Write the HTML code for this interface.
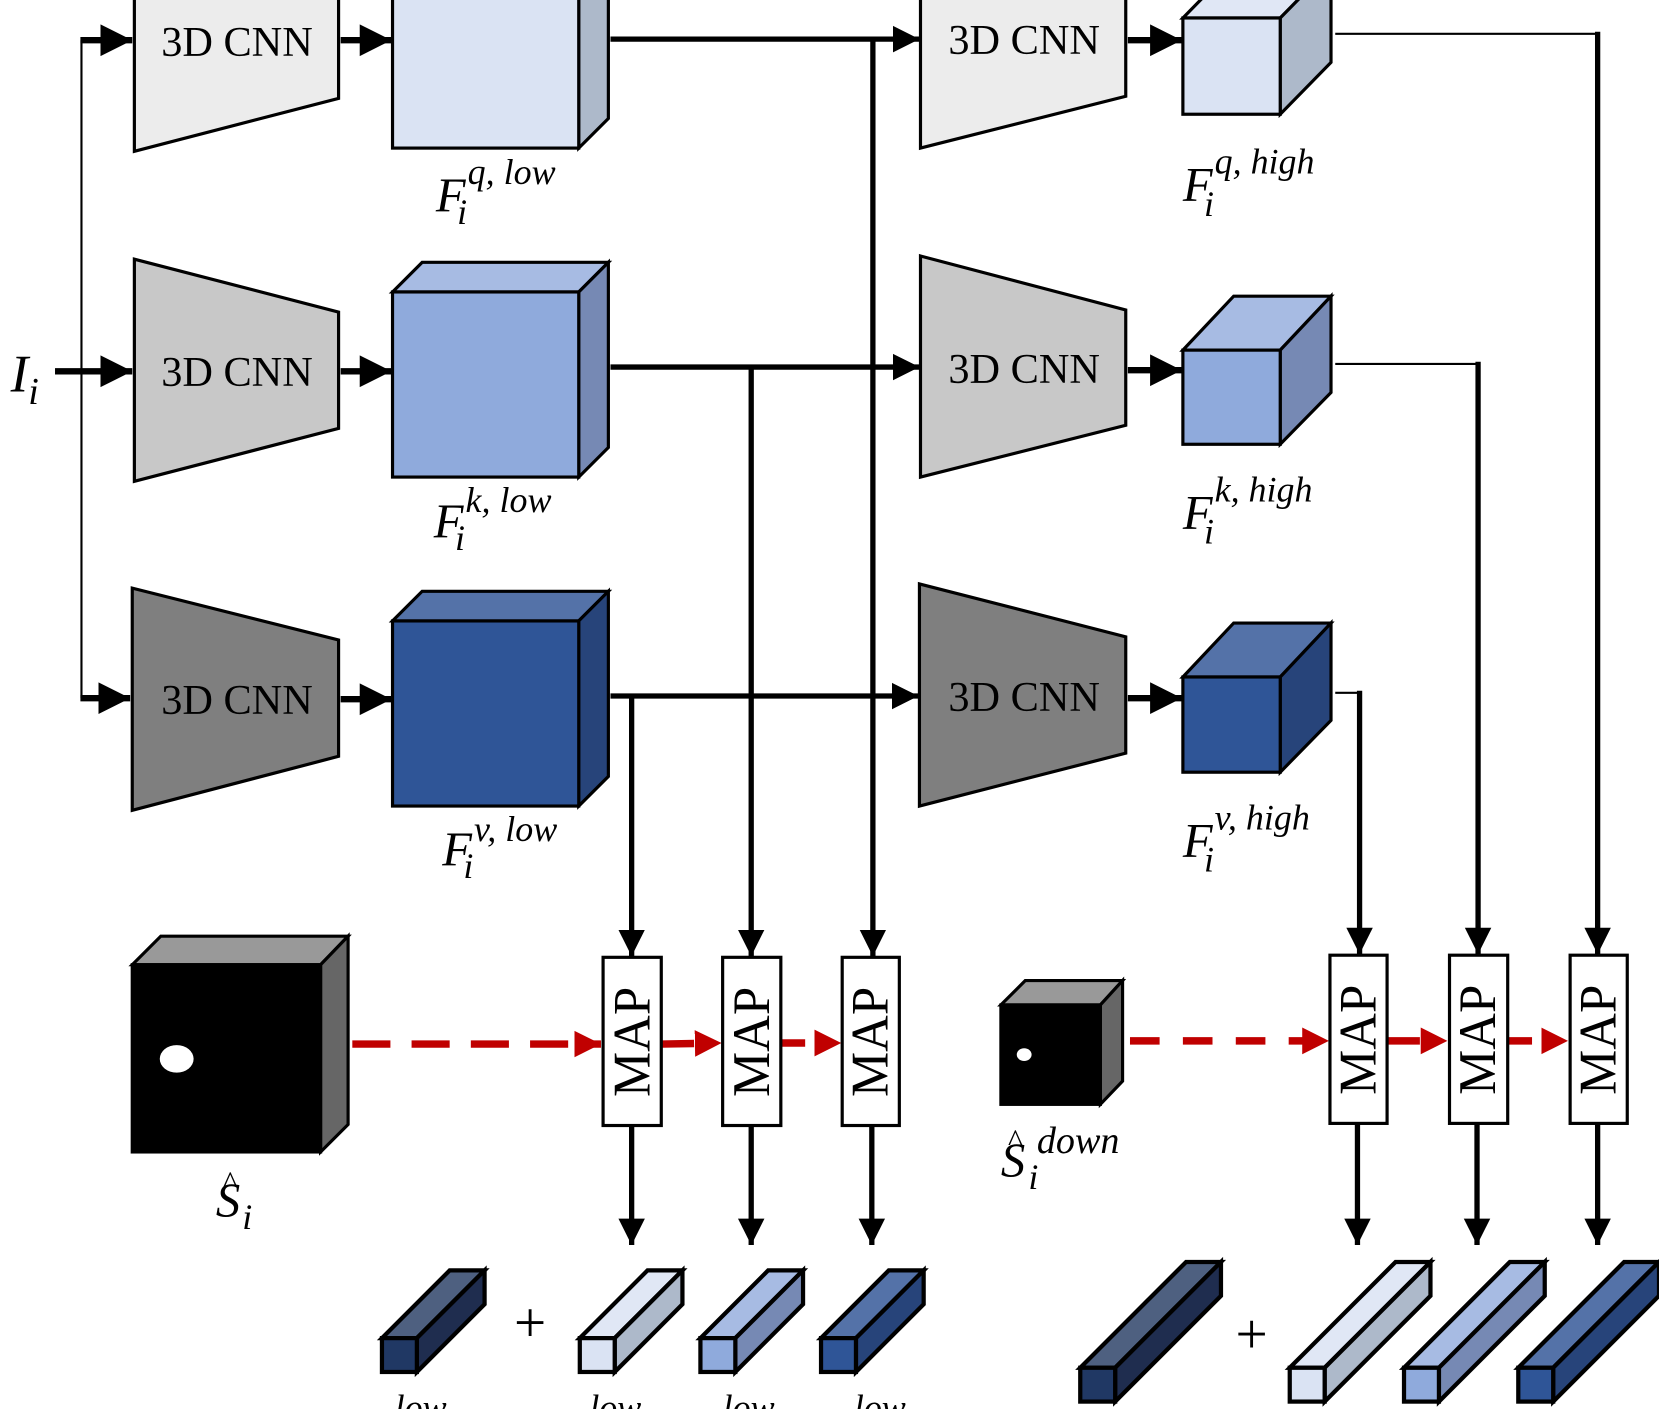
<!DOCTYPE html>
<html><head><style>html,body{margin:0;padding:0;background:#fff;overflow:hidden}svg{display:block}</style></head>
<body>
<svg width="1659" height="1409" viewBox="0 0 1568 1332" preserveAspectRatio="none" xmlns="http://www.w3.org/2000/svg">
<defs>
<marker id="ah" viewBox="0 0 10 10" refX="10" refY="5" markerWidth="5" markerHeight="5.2" orient="auto" markerUnits="strokeWidth"><path d="M0,0L10,5L0,10z" fill="#000"/></marker>
<marker id="rh" viewBox="0 0 10 10" refX="10" refY="5" markerWidth="3.6" markerHeight="4" orient="auto" markerUnits="strokeWidth"><path d="M0,0L10,5L0,10z" fill="#c00000"/></marker>
</defs>
<g stroke="#000" stroke-width="3" stroke-linejoin="miter">
<polygon points="127,-67 320,-17 320,93 127,143" fill="#ececec"/>
<polygon points="127,245 320,295 320,405 127,455" fill="#c8c8c8"/>
<polygon points="125,556 320,605 320,715 125,766" fill="#7f7f7f"/>
<polygon points="870,-68 1064,-17 1064,91 870,140" fill="#ececec"/>
<polygon points="870,242 1064,293 1064,402 870,451" fill="#c8c8c8"/>
<polygon points="869,552 1064,602 1064,712 869,762" fill="#7f7f7f"/>
<polygon points="371,-35 399,-63 575,-63 547,-35" fill="#e0e7f5"/>
<polygon points="547,-35 575,-63 575,112 547,140" fill="#adb9ca"/>
<rect x="371" y="-35" width="176" height="175" fill="#dae3f3"/>
<polygon points="371,276 399,248 575,248 547,276" fill="#a7bbe3"/>
<polygon points="547,276 575,248 575,423 547,451" fill="#7689b4"/>
<rect x="371" y="276" width="176" height="175" fill="#8faadc"/>
<polygon points="371,587 399,559 575,559 547,587" fill="#5472a8"/>
<polygon points="547,587 575,559 575,734 547,762" fill="#27447a"/>
<rect x="371" y="587" width="176" height="175" fill="#2f5597"/>
<polygon points="1118,17 1166,-32 1258,-32 1210,17" fill="#e0e7f5"/>
<polygon points="1210,17 1258,-32 1258,59 1210,108" fill="#adb9ca"/>
<rect x="1118" y="17" width="92" height="91" fill="#dae3f3"/>
<polygon points="1118,331 1166,280 1258,280 1210,331" fill="#a7bbe3"/>
<polygon points="1210,331 1258,280 1258,371 1210,420" fill="#7689b4"/>
<rect x="1118" y="331" width="92" height="89" fill="#8faadc"/>
<polygon points="1118,640 1166,589 1258,589 1210,640" fill="#5472a8"/>
<polygon points="1210,640 1258,589 1258,681 1210,730" fill="#27447a"/>
<rect x="1118" y="640" width="92" height="90" fill="#2f5597"/>
<polygon points="125,912 152,885 329,885 303,912" fill="#999"/>
<polygon points="303,912 329,885 329,1063 303,1089" fill="#666"/>
<rect x="125" y="912" width="178" height="177" fill="#000"/>
<polygon points="946,950 969,927 1061,927 1040,950" fill="#999"/>
<polygon points="1040,950 1061,927 1061,1022 1040,1044" fill="#666"/>
<rect x="946" y="950" width="94" height="94" fill="#000"/>
</g>
<ellipse cx="167" cy="1001" rx="16" ry="13" fill="#fff"/>
<ellipse cx="968" cy="997" rx="7" ry="6" fill="#fff"/>
<g stroke="#000" fill="none">
<line x1="52" y1="351" x2="125" y2="351" stroke-width="6" marker-end="url(#ah)"/>
<line x1="77" y1="38" x2="77" y2="660" stroke-width="2"/>
<line x1="76" y1="38" x2="125" y2="38" stroke-width="6" marker-end="url(#ah)"/>
<line x1="76" y1="660" x2="123" y2="660" stroke-width="6" marker-end="url(#ah)"/>
<line x1="322" y1="38" x2="370" y2="38" stroke-width="6" marker-end="url(#ah)"/>
<line x1="322" y1="351" x2="370" y2="351" stroke-width="6" marker-end="url(#ah)"/>
<line x1="322" y1="661" x2="370" y2="661" stroke-width="6" marker-end="url(#ah)"/>
<line x1="577" y1="37" x2="869" y2="37" stroke-width="5" marker-end="url(#ah)"/>
<line x1="577" y1="347" x2="869" y2="347" stroke-width="5" marker-end="url(#ah)"/>
<line x1="577" y1="658" x2="868" y2="658" stroke-width="5" marker-end="url(#ah)"/>
<line x1="1066" y1="38" x2="1117" y2="38" stroke-width="6" marker-end="url(#ah)"/>
<line x1="1066" y1="350" x2="1117" y2="350" stroke-width="6" marker-end="url(#ah)"/>
<line x1="1066" y1="660" x2="1117" y2="660" stroke-width="6" marker-end="url(#ah)"/>
<line x1="825" y1="37" x2="825" y2="904" stroke-width="5" marker-end="url(#ah)"/>
<line x1="710" y1="347" x2="710" y2="904" stroke-width="5" marker-end="url(#ah)"/>
<line x1="597" y1="658" x2="597" y2="904" stroke-width="5" marker-end="url(#ah)"/>
<polyline points="1262,32 1510,32" stroke-width="2"/>
<line x1="1510" y1="30" x2="1510" y2="902" stroke-width="5" marker-end="url(#ah)"/>
<polyline points="1262,344 1397,344" stroke-width="2"/>
<line x1="1397" y1="342" x2="1397" y2="902" stroke-width="5" marker-end="url(#ah)"/>
<polyline points="1262,655 1285,655" stroke-width="2"/>
<line x1="1285" y1="653" x2="1285" y2="902" stroke-width="5" marker-end="url(#ah)"/>
<line x1="597" y1="1064" x2="597" y2="1177" stroke-width="5" marker-end="url(#ah)"/>
<line x1="710" y1="1064" x2="710" y2="1177" stroke-width="5" marker-end="url(#ah)"/>
<line x1="824" y1="1064" x2="824" y2="1177" stroke-width="5" marker-end="url(#ah)"/>
<line x1="1283" y1="1062" x2="1283" y2="1177" stroke-width="5" marker-end="url(#ah)"/>
<line x1="1396" y1="1062" x2="1396" y2="1177" stroke-width="5" marker-end="url(#ah)"/>
<line x1="1510" y1="1062" x2="1510" y2="1177" stroke-width="5" marker-end="url(#ah)"/>
</g>
<g stroke="#c00000" stroke-width="7" fill="none">
<line x1="333" y1="987" x2="568" y2="987" stroke-dasharray="36,20" marker-end="url(#rh)"/>
<line x1="626" y1="987" x2="682" y2="986" stroke-dasharray="30,100" marker-end="url(#rh)"/>
<line x1="739" y1="986" x2="795" y2="986" stroke-dasharray="22,100" marker-end="url(#rh)"/>
<line x1="1068" y1="984" x2="1256" y2="984" stroke-dasharray="28,22" marker-end="url(#rh)"/>
<line x1="1312" y1="984" x2="1368" y2="984" stroke-dasharray="30,100" marker-end="url(#rh)"/>
<line x1="1426" y1="984" x2="1482" y2="984" stroke-dasharray="22,100" marker-end="url(#rh)"/>
</g>
<g stroke="#000" stroke-width="3" fill="#fff">
<rect x="570" y="905" width="55" height="159"/><rect x="683" y="905" width="55" height="159"/><rect x="796" y="905" width="54" height="159"/>
<rect x="1257" y="903" width="54" height="159"/><rect x="1370" y="903" width="55" height="159"/><rect x="1484" y="903" width="54" height="159"/>
</g>
<g font-family="Liberation Serif, serif" font-size="48" fill="#000" text-anchor="middle">
<text transform="translate(614,985) rotate(-90) scale(1,1.05)">MAP</text>
<text transform="translate(727,985) rotate(-90) scale(1,1.05)">MAP</text>
<text transform="translate(839,985) rotate(-90) scale(1,1.05)">MAP</text>
<text transform="translate(1300,983) rotate(-90) scale(1,1.05)">MAP</text>
<text transform="translate(1413,983) rotate(-90) scale(1,1.05)">MAP</text>
<text transform="translate(1527,983) rotate(-90) scale(1,1.05)">MAP</text>
</g>
<g font-family="Liberation Serif, serif" font-size="40" fill="#000" text-anchor="middle">
<text x="224" y="53">3D CNN</text><text x="224" y="365">3D CNN</text><text x="224" y="675">3D CNN</text>
<text x="968" y="51">3D CNN</text><text x="968" y="362">3D CNN</text><text x="968" y="672">3D CNN</text>
</g>
<g stroke="#000" stroke-width="4" stroke-linejoin="miter">
<polygon points="361,1265 425,1201 458,1201 394,1265" fill="#4e6080"/><polygon points="394,1265 458,1201 458,1233 394,1297" fill="#1f2d4f"/><rect x="361" y="1265" width="33" height="32" fill="#203864"/>
<polygon points="548,1265 612,1201 645,1201 581,1265" fill="#e0e7f5"/><polygon points="581,1265 645,1201 645,1233 581,1297" fill="#adb9ca"/><rect x="548" y="1265" width="33" height="32" fill="#dae3f3"/>
<polygon points="662,1265 726,1201 759,1201 695,1265" fill="#a7bbe3"/><polygon points="695,1265 759,1201 759,1233 695,1297" fill="#7689b4"/><rect x="662" y="1265" width="33" height="32" fill="#8faadc"/>
<polygon points="776,1265 840,1201 873,1201 809,1265" fill="#5472a8"/><polygon points="809,1265 873,1201 873,1233 809,1297" fill="#27447a"/><rect x="776" y="1265" width="33" height="32" fill="#2f5597"/>
<polygon points="1021,1293 1121,1193 1154,1193 1054,1293" fill="#4e6080"/><polygon points="1054,1293 1154,1193 1154,1225 1054,1325" fill="#1f2d4f"/><rect x="1021" y="1293" width="33" height="32" fill="#203864"/>
<polygon points="1219,1293 1319,1193 1352,1193 1252,1293" fill="#e0e7f5"/><polygon points="1252,1293 1352,1193 1352,1225 1252,1325" fill="#adb9ca"/><rect x="1219" y="1293" width="33" height="32" fill="#dae3f3"/>
<polygon points="1327,1293 1427,1193 1460,1193 1360,1293" fill="#a7bbe3"/><polygon points="1360,1293 1460,1193 1460,1225 1360,1325" fill="#7689b4"/><rect x="1327" y="1293" width="33" height="32" fill="#8faadc"/>
<polygon points="1435,1293 1535,1193 1568,1193 1468,1293" fill="#5472a8"/><polygon points="1468,1293 1568,1193 1568,1225 1468,1325" fill="#27447a"/><rect x="1435" y="1293" width="33" height="32" fill="#2f5597"/>
</g>
<g font-family="Liberation Serif, serif" font-size="54" fill="#000" text-anchor="middle">
<text x="501" y="1268">+</text><text x="1183" y="1279">+</text>
</g>
<g font-family="Liberation Serif, serif" font-style="italic" font-size="34" fill="#000">
<text x="373" y="1342">low</text><text x="557" y="1342">low</text><text x="683" y="1342">low</text><text x="807" y="1342">low</text>
</g>
<g font-family="Liberation Serif, serif" font-style="italic" fill="#000">
<text x="10" y="370" font-size="50">I<tspan font-size="36" dy="12">i</tspan></text>
<text x="412" y="200" font-size="46">F</text><text x="432" y="212" font-size="34">i</text><text x="442" y="174" font-size="34">q, low</text>
<text x="410" y="508" font-size="46">F</text><text x="430" y="520" font-size="34">i</text><text x="440" y="484" font-size="34">k, low</text>
<text x="418" y="818" font-size="46">F</text><text x="438" y="830" font-size="34">i</text><text x="448" y="795" font-size="34">v, low</text>
<text x="1118" y="190" font-size="46">F</text><text x="1138" y="204" font-size="34">i</text><text x="1148" y="164" font-size="34">q, high</text>
<text x="1118" y="500" font-size="46">F</text><text x="1138" y="514" font-size="34">i</text><text x="1148" y="474" font-size="34">k, high</text>
<text x="1118" y="810" font-size="46">F</text><text x="1138" y="824" font-size="34">i</text><text x="1148" y="784" font-size="34">v, high</text>
<text x="204" y="1150" font-size="46">S</text><text x="210" y="1128" font-size="30">^</text><text x="229" y="1162" font-size="34">i</text>
<text x="946" y="1112" font-size="46">S</text><text x="952" y="1088" font-size="30">^</text><text x="972" y="1124" font-size="34">i</text><text x="980" y="1090" font-size="36">down</text>
</g>
</svg>
</body></html>
